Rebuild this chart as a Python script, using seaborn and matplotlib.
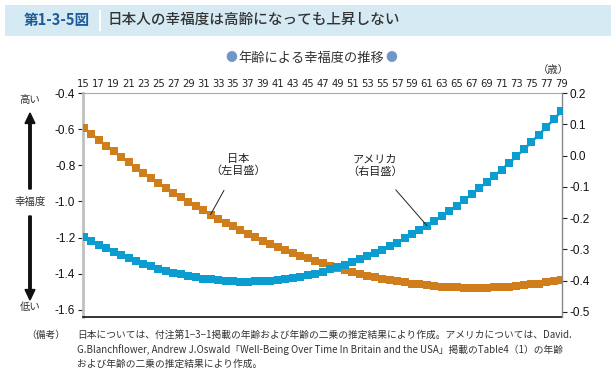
import numpy as np
import pandas as pd
import matplotlib
matplotlib.use("Agg")
import matplotlib.pyplot as plt
import seaborn as sns
from matplotlib.patches import Rectangle, FancyArrow

sns.set_style("white")
plt.rcParams["font.family"] = ["Noto Sans CJK JP", "DejaVu Sans"]
plt.rcParams["axes.unicode_minus"] = False

# ages 15..79 and the two estimated curves
ages = list(range(15, 80))
japan = [-0.593, -0.627, -0.659, -0.692, -0.723, -0.754, -0.784, -0.813, -0.842, -0.871,
         -0.898, -0.925, -0.951, -0.977, -1.002, -1.027, -1.050, -1.073, -1.096, -1.118,
         -1.139, -1.159, -1.179, -1.199, -1.217, -1.235, -1.253, -1.269, -1.285, -1.301,
         -1.316, -1.330, -1.343, -1.356, -1.368, -1.380, -1.391, -1.401, -1.411, -1.420,
         -1.428, -1.436, -1.443, -1.449, -1.455, -1.460, -1.464, -1.468, -1.472, -1.474,
         -1.476, -1.477, -1.478, -1.478, -1.477, -1.476, -1.474, -1.472, -1.468, -1.464,
         -1.460, -1.455, -1.449, -1.443, -1.436]
usa = [-0.260, -0.273, -0.285, -0.297, -0.308, -0.318, -0.328, -0.337, -0.346, -0.354,
       -0.361, -0.368, -0.374, -0.380, -0.385, -0.389, -0.393, -0.396, -0.399, -0.401,
       -0.402, -0.403, -0.403, -0.402, -0.401, -0.400, -0.397, -0.394, -0.391, -0.387,
       -0.382, -0.377, -0.371, -0.364, -0.357, -0.349, -0.341, -0.332, -0.322, -0.312,
       -0.301, -0.290, -0.278, -0.265, -0.252, -0.238, -0.224, -0.208, -0.193, -0.176,
       -0.160, -0.142, -0.124, -0.105, -0.086, -0.066, -0.045, -0.024, -0.002, 0.020,
       0.043, 0.067, 0.091, 0.116, 0.141]
left_ticks = [-1.6, -1.4, -1.2, -1.0, -0.8, -0.6, -0.4]
right_ticks = [-0.5, -0.4, -0.3, -0.2, -0.1, 0.0, 0.1, 0.2]
top_ticks = list(range(15, 80, 2))

df = pd.DataFrame({"age": ages, "japan": japan, "usa": usa})

orange = "#d07d1c"
blue = "#0b9dd0"
num_font = "Liberation Sans"

fig = plt.figure(figsize=(6.16, 3.73), dpi=100)
W, H = 616, 373

def fx(px):
    return px / W

def fy(py):
    return 1 - py / H

# header band
fig.patches.append(Rectangle((fx(5), fy(36)), fx(606), 31 / H, transform=fig.transFigure,
                             facecolor="#d6eaf4", edgecolor="none", zorder=0))
fig.patches.append(Rectangle((fx(99), fy(31)), fx(2), 21 / H, transform=fig.transFigure,
                             facecolor="white", edgecolor="none", zorder=1))
fig.text(fx(24), fy(20), "第1-3-5図", fontsize=10.5, fontweight="bold", color="#1d5c99",
         va="center", ha="left")
fig.text(fx(108), fy(20), "日本人の幸福度は高齢になっても上昇しない", fontsize=10.5,
         fontweight="medium", color="#333333", va="center", ha="left")

# subtitle
fig.text(fx(311), fy(58), "年齢による幸福度の推移", fontsize=9.5, color="#333333",
         ha="center", va="center")
fig.text(fx(231), fy(58), "●", fontsize=8.5, color="#7096c8", ha="center", va="center")
fig.text(fx(391), fy(58), "●", fontsize=8.5, color="#7096c8", ha="center", va="center")
fig.text(fx(553), fy(70), "（歳）", fontsize=7.5, color="#333333", ha="center", va="center")

ax = fig.add_axes([fx(83), fy(317), fx(562) - fx(83), (317 - 93) / H])
ax2 = ax.twinx()

sns.lineplot(data=df, x="age", y="japan", ax=ax, color=orange, linewidth=1.8,
             marker="s", markersize=5.4, markeredgewidth=0, zorder=3)
sns.lineplot(data=df, x="age", y="usa", ax=ax2, color=blue, linewidth=1.8,
             marker="s", markersize=5.4, markeredgewidth=0, zorder=3)

ax.set_xlim(14.9, 79.1)
ax.set_ylim(-1.64, -0.4)
ax2.set_ylim(-0.516, 0.2)
ax.set_xlabel("")
ax.set_ylabel("")
ax2.set_ylabel("")

ax.xaxis.tick_top()
ax.set_xticks(top_ticks)
ax.set_xticklabels([str(t) for t in top_ticks], fontsize=7.2, family="Liberation Sans Narrow",
                   color="#222222")
ax.tick_params(axis="x", length=0, pad=3)

ax.set_yticks(left_ticks)
ax.set_yticklabels(["%.1f" % v for v in left_ticks], fontsize=8.5, family=num_font,
                   color="#111111")
ax.tick_params(axis="y", length=3.5, width=0.8, color="#222222", pad=2)

ax2.set_yticks(right_ticks)
ax2.set_yticklabels(["%.1f" % v for v in right_ticks], fontsize=8.5, family=num_font,
                    color="#111111")
ax2.tick_params(axis="y", length=3.5, width=0.8, color="#222222", pad=2)

for s in ["left", "right", "top", "bottom"]:
    ax2.spines[s].set_visible(False)
ax2.spines["right"].set_visible(True)
ax2.spines["right"].set_color("#888888")
ax2.spines["right"].set_linewidth(1.0)
ax.spines["right"].set_visible(False)
ax.spines["left"].set_color("#c0c0c0")
ax.spines["left"].set_linewidth(2.0)
ax.spines["top"].set_color("#aaaaaa")
ax.spines["top"].set_linewidth(0.8)
ax.spines["bottom"].set_color("#111111")
ax.spines["bottom"].set_linewidth(1.2)

# callouts
ax.annotate("日本\n（左目盛）", xy=(32, -1.073), xytext=(fx(238), fy(165)),
            textcoords="figure fraction", fontsize=8, ha="center", va="center",
            color="#222222", linespacing=1.2,
            arrowprops=dict(arrowstyle="-", color="#222222", lw=0.7, shrinkA=9, shrinkB=0))
ax2.annotate("アメリカ\n（右目盛）", xy=(61, -0.224), xytext=(fx(375), fy(166)),
             textcoords="figure fraction", fontsize=8, ha="center", va="center",
             color="#222222", linespacing=1.2,
             arrowprops=dict(arrowstyle="-", color="#222222", lw=0.7, shrinkA=9, shrinkB=0))

# left side legend of happiness direction
fig.text(fx(30), fy(100), "高い", fontsize=7.5, color="#333333", ha="center", va="center")
fig.text(fx(30), fy(202), "幸福度", fontsize=7.5, color="#333333", ha="center", va="center")
fig.text(fx(30), fy(307), "低い", fontsize=7.5, color="#333333", ha="center", va="center")
fig.patches.append(FancyArrow(fx(30), fy(189), 0, (189 - 113) / H, width=0.004,
                              head_width=0.016, head_length=0.028, length_includes_head=True,
                              transform=fig.transFigure, color="#111111"))
fig.patches.append(FancyArrow(fx(30), fy(216), 0, -(300 - 216) / H, width=0.004,
                              head_width=0.016, head_length=0.028, length_includes_head=True,
                              transform=fig.transFigure, color="#111111"))

# notes
fig.text(fx(26), fy(335), "（備考）", fontsize=7, color="#333333", ha="left", va="center")
notes = ["日本については、付注第1−3−1掲載の年齢および年齢の二乗の推定結果により作成。アメリカについては、David.",
         "G.Blanchflower, Andrew J.Oswald「Well-Being Over Time In Britain and the USA」掲載のTable4（1）の年齢",
         "および年齢の二乗の推定結果により作成。"]
for i, line in enumerate(notes):
    fig.text(fx(77), fy(335 + 14.5 * i), line, fontsize=7, color="#333333", ha="left", va="center")

fig.savefig("out.png", dpi=100)
